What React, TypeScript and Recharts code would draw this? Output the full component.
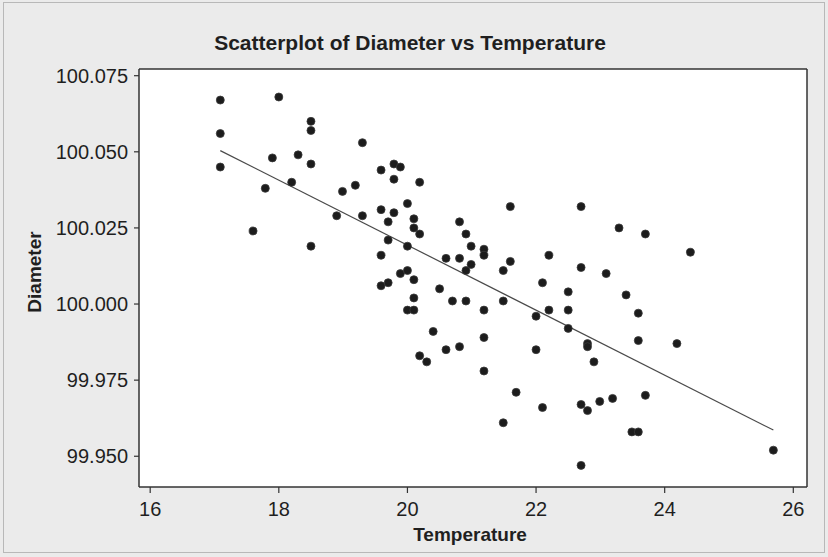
import React from "react";
import {
  ScatterChart,
  Scatter,
  XAxis,
  YAxis,
  CartesianGrid,
  ReferenceLine,
} from "recharts";

// observed temperature / diameter pairs
const temperature = [
  17.09, 17.09, 17.09, 18.0, 18.5, 18.5, 18.5, 19.3, 17.9, 18.3,
  17.79, 18.2, 18.99, 19.19, 18.9, 19.3, 17.6, 18.5, 19.59, 19.79,
  19.89, 19.79, 20.19, 20.0, 19.59, 19.79, 19.7, 20.1, 20.1, 20.19,
  19.7, 20.0, 19.59, 21.6, 20.81, 20.91, 20.99, 21.19, 21.19, 20.6,
  20.81, 20.99, 20.91, 21.6, 21.49, 22.2, 22.7, 22.7, 23.29, 23.7,
  24.4, 23.09, 19.59, 19.7, 19.89, 20.0, 20.1, 20.1, 20.0, 20.1,
  20.5, 20.7, 20.91, 21.19, 21.49, 22.1, 22.5, 22.5, 22.2, 22.0,
  22.5, 20.4, 20.6, 20.81, 21.19, 20.19, 20.3, 22.0, 21.19, 21.69,
  22.1, 21.49, 23.4, 23.59, 23.59, 24.19, 22.8, 22.8, 22.9, 23.7,
  22.7, 22.8, 22.99, 23.19, 23.49, 23.59, 22.7, 25.69,
];
const diameter = [
  100.067, 100.056, 100.045, 100.068, 100.06, 100.057, 100.046, 100.053, 100.048, 100.049,
  100.038, 100.04, 100.037, 100.039, 100.029, 100.029, 100.024, 100.019, 100.044, 100.046,
  100.045, 100.041, 100.04, 100.033, 100.031, 100.03, 100.027, 100.028, 100.025, 100.023,
  100.021, 100.019, 100.016, 100.032, 100.027, 100.023, 100.019, 100.018, 100.016, 100.015,
  100.015, 100.013, 100.011, 100.014, 100.011, 100.016, 100.032, 100.012, 100.025, 100.023,
  100.017, 100.01, 100.006, 100.007, 100.01, 100.011, 100.008, 100.002, 99.998, 99.998,
  100.005, 100.001, 100.001, 99.998, 100.001, 100.007, 100.004, 99.998, 99.998, 99.996,
  99.992, 99.991, 99.985, 99.986, 99.989, 99.983, 99.981, 99.985, 99.978, 99.971,
  99.966, 99.961, 100.003, 99.997, 99.988, 99.987, 99.987, 99.986, 99.981, 99.97,
  99.967, 99.965, 99.968, 99.969, 99.958, 99.958, 99.947, 99.952,
];

// fitted regression line end points
const fitTemperature = [17.09, 25.69];
const fitDiameter = [100.0504, 99.9586];

const xTicks = [16, 18, 20, 22, 24, 26];
const yTicks = [99.95, 99.975, 100.0, 100.025, 100.05, 100.075];

const X_DOMAIN: [number, number] = [15.826, 26.213];
const Y_DOMAIN: [number, number] = [99.9399, 100.0772];

const FONT = "'Liberation Sans', Arial, Helvetica, sans-serif";
const INK = "#1f1f1f";

const points = temperature.map((t, i) => ({ x: t, y: diameter[i] }));
const fitLine = fitTemperature.map((t, i) => ({ x: t, y: fitDiameter[i] }));

const Dot = (props: any) => (
  <circle cx={props.cx} cy={props.cy} r={4} fill="#1c1c1c" stroke="#3a3a3a" strokeWidth={0.8} />
);
const NoDot = () => <g />;

const tickStyle = { fill: INK, fontSize: 20, fontFamily: FONT };

export default function App() {
  return (
    <div
      style={{
        position: "absolute",
        left: 0,
        top: 0,
        width: 828,
        height: 557,
        background: "#ebebeb",
      }}
    >
      <ScatterChart
        width={828}
        height={557}
        margin={{ top: 69, right: 21, bottom: 0, left: 0 }}
      >
        <rect x={3.5} y={2.5} width={821} height={550} fill="none" stroke="#b8b8b8" />
        <CartesianGrid horizontal={false} vertical={false} fill="#ffffff" />
        <XAxis
          type="number"
          dataKey="x"
          domain={X_DOMAIN}
          allowDataOverflow
          ticks={xTicks}
          height={70}
          tickSize={6}
          tickMargin={9}
          tick={tickStyle}
          axisLine={{ stroke: "#333", strokeWidth: 1.5 }}
          tickLine={{ stroke: "#333", strokeWidth: 1.2 }}
        />
        <YAxis
          type="number"
          dataKey="y"
          domain={Y_DOMAIN}
          allowDataOverflow
          ticks={yTicks}
          width={139}
          tickSize={5}
          tickMargin={6}
          tick={tickStyle}
          tickFormatter={(v: number) => v.toFixed(3)}
          axisLine={{ stroke: "#333", strokeWidth: 1.5 }}
          tickLine={{ stroke: "#333", strokeWidth: 1.2 }}
        />
        <ReferenceLine y={Y_DOMAIN[1]} stroke="#333" strokeWidth={1.5} />
        <ReferenceLine x={X_DOMAIN[1]} stroke="#333" strokeWidth={1.5} />
        <Scatter
          data={fitLine}
          line={{ stroke: "#4a4a4a", strokeWidth: 1.2 }}
          shape={NoDot}
          isAnimationActive={false}
        />
        <Scatter data={points} shape={Dot} isAnimationActive={false} />
        <text
          x={410}
          y={50}
          textAnchor="middle"
          fontFamily={FONT}
          fontWeight="bold"
          fontSize={21}
          fill={INK}
        >
          Scatterplot of Diameter vs Temperature
        </text>
        <text
          x={470}
          y={541}
          textAnchor="middle"
          fontFamily={FONT}
          fontWeight="bold"
          fontSize={19}
          fill={INK}
        >
          Temperature
        </text>
        <text
          transform="translate(41 272) rotate(-90)"
          textAnchor="middle"
          fontFamily={FONT}
          fontWeight="bold"
          fontSize={19}
          fill={INK}
        >
          Diameter
        </text>
      </ScatterChart>
    </div>
  );
}
